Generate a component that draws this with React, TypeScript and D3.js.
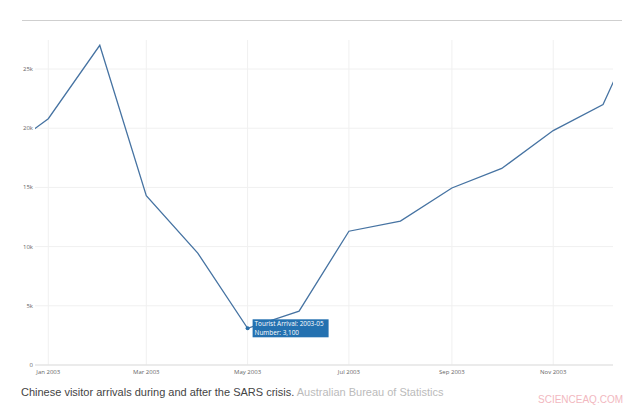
import React, { useEffect, useRef } from 'react';
import * as d3 from 'd3';

// monthly arrivals, Dec 2002 .. Jan 2004 (chart window clips the ends)
const months = ['2002-12', '2003-01', '2003-02', '2003-03', '2003-04', '2003-05', '2003-06',
    '2003-07', '2003-08', '2003-09', '2003-10', '2003-11', '2003-12', '2004-01'];
const arrivals = [17600, 20800, 27000, 14300, 9450, 3100, 4550, 11300, 12150, 14950, 16600, 19800, 22000, 31500];
const yTicks = [0, 5000, 10000, 15000, 20000, 25000];
const xTickMonths = ['2003-01', '2003-03', '2003-05', '2003-07', '2003-09', '2003-11'];
const highlight = '2003-05';

const App = () => {
    const ref = useRef<SVGSVGElement>(null);

    useEffect(() => {
        const svg: any = d3.select(ref.current);
        svg.selectAll('*').remove();

        const parse = d3.timeParse('%Y-%m');
        const data = months.map((m, i) => ({ key: m, date: parse(m) as Date, value: arrivals[i] }));

        const left = 35, right = 613, top = 40, bottom = 365;
        const x = d3.scaleTime()
            .domain([new Date(2002, 11, 24), new Date(2003, 11, 7)])
            .range([left, right]);
        const y = d3.scaleLinear()
            .domain([0, 27450])
            .range([bottom, top]);

        // top rule
        svg.append('line')
            .attr('x1', 22).attr('x2', 622).attr('y1', 20.5).attr('y2', 20.5)
            .attr('stroke', '#cfcfcf').attr('stroke-width', 1);

        svg.append('defs').append('clipPath').attr('id', 'plot-clip')
            .append('rect')
            .attr('x', left).attr('y', top - 10)
            .attr('width', right - left).attr('height', bottom - top + 10);

        // grid
        svg.append('g').selectAll('line')
            .data(xTickMonths.map((m) => parse(m) as Date))
            .enter().append('line')
            .attr('x1', (d: Date) => x(d)).attr('x2', (d: Date) => x(d))
            .attr('y1', top).attr('y2', bottom)
            .attr('stroke', '#f0f0f0');
        svg.append('g').selectAll('line')
            .data(yTicks)
            .enter().append('line')
            .attr('x1', left).attr('x2', right)
            .attr('y1', (d: number) => y(d)).attr('y2', (d: number) => y(d))
            .attr('stroke', (d: number) => d === 0 ? '#e4e4e4' : '#f0f0f0')
            .attr('stroke-width', (d: number) => d === 0 ? 1.5 : 1);

        // tick labels
        svg.append('g').selectAll('text')
            .data(yTicks)
            .enter().append('text')
            .attr('x', left - 2)
            .attr('y', (d: number) => y(d) + 2)
            .attr('text-anchor', 'end')
            .style('font-family', 'Open Sans, sans-serif')
            .style('font-size', '6px')
            .style('fill', '#666')
            .text((d: number) => d === 0 ? '0' : d / 1000 + 'k');
        svg.append('g').selectAll('text')
            .data(xTickMonths.map((m) => parse(m) as Date))
            .enter().append('text')
            .attr('x', (d: Date) => x(d))
            .attr('y', bottom + 9)
            .attr('text-anchor', 'middle')
            .style('font-family', 'Open Sans, sans-serif')
            .style('font-size', '6px')
            .style('fill', '#666')
            .text((d: Date) => d3.timeFormat('%b %Y')(d));

        // line
        const line = d3.line<any>()
            .x((d) => x(d.date))
            .y((d) => y(d.value));
        svg.append('path')
            .datum(data)
            .attr('clip-path', 'url(#plot-clip)')
            .attr('d', line)
            .attr('fill', 'none')
            .attr('stroke', '#4673a2')
            .attr('stroke-width', 1.3);

        // hover label
        const h: any = data.find((d) => d.key === highlight);
        const hx = x(h.date), hy = y(h.value);
        svg.append('circle')
            .attr('cx', hx).attr('cy', hy).attr('r', 2)
            .attr('fill', '#2a6ea8');
        const tip = svg.append('g').attr('transform', 'translate(' + (hx + 5) + ',' + (hy - 9) + ')');
        tip.append('rect')
            .attr('width', 76).attr('height', 18)
            .attr('fill', '#2471b0');
        tip.append('text')
            .attr('x', 2).attr('y', 7)
            .style('font-family', 'Open Sans, sans-serif')
            .style('font-size', '6.4px')
            .style('fill', '#fff')
            .text('Tourist Arrival: ' + h.key);
        tip.append('text')
            .attr('x', 2).attr('y', 15.5)
            .style('font-family', 'Open Sans, sans-serif')
            .style('font-size', '6.4px')
            .style('fill', '#fff')
            .text('Number: ' + d3.format(',')(h.value));

        // caption
        const cap = svg.append('text')
            .attr('x', 21).attr('y', 396)
            .style('font-family', 'Liberation Sans, Arial, sans-serif')
            .style('font-size', '11px');
        cap.append('tspan').style('fill', '#444').text('Chinese visitor arrivals during and after the SARS crisis.');
        cap.append('tspan').style('fill', '#bbb').text(' Australian Bureau of Statistics');

        svg.append('text')
            .attr('x', 623).attr('y', 403)
            .attr('text-anchor', 'end')
            .style('font-family', 'Liberation Sans, Arial, sans-serif')
            .style('font-size', '10px')
            .style('fill', '#f2b8c0')
            .text('SCIENCEAQ.COM');
    }, []);

    return (
        <svg ref={ref} width={639} height={408}
            style={{ position: 'absolute', left: 0, top: 0, background: '#fff' }} />
    );
};

export default App;
